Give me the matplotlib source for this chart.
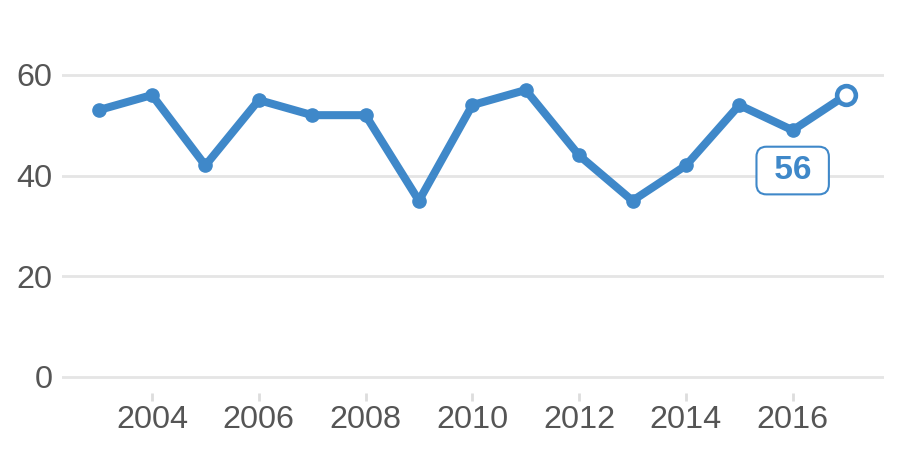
import matplotlib.pyplot as plt

plt.rcParams['font.family'] = ['Liberation Sans', 'DejaVu Sans']

anos = [2003, 2004, 2005, 2006, 2007, 2008, 2009, 2010,
        2011, 2012, 2013, 2014, 2015, 2016, 2017]
valores = [53, 56, 42, 55, 52, 52, 35, 54, 57, 44, 35, 42, 54, 49, 56]
ticks_x = [2004, 2006, 2008, 2010, 2012, 2014, 2016]
ticks_y = [0, 20, 40, 60]

azul = '#3f88c9'
cinza_texto = '#555555'

fig = plt.figure(figsize=(9, 4.5), dpi=100)
ax = fig.add_axes([0.0689, 0.1267, 0.9133, 0.8187])

# linhas de grade horizontais
for y in ticks_y:
    ax.axhline(y, color='#e5e5e5', lw=2, zorder=1)

ax.plot(anos, valores, color=azul, lw=5.8, solid_joinstyle='round',
        solid_capstyle='round', zorder=3)
ax.plot(anos[:-1], valores[:-1], 'o', color=azul, ms=9.5, zorder=4)
ax.plot(anos[-1], valores[-1], 'o', mfc='white', mec=azul, ms=13.5, mew=3.3, zorder=5)

# rótulo do último valor
ax.annotate(' %d ' % valores[-1], xy=(anos[-2], valores[-2]), xytext=(0, -29),
            textcoords='offset points', ha='center', va='center',
            fontsize=24, fontweight='bold', color=azul, zorder=6,
            bbox=dict(boxstyle='round,pad=0.25,rounding_size=0.3', fc='white',
                      ec=azul, lw=1.5))

ax.set_xlim(2002.315, 2017.71)
ax.set_ylim(-3.2, 70)
ax.set_xticks(ticks_x)
ax.set_yticks(ticks_y)
ax.tick_params(axis='x', length=6, width=2, color='#dddddd', pad=3,
               labelsize=23.3, labelcolor=cinza_texto)
ax.tick_params(axis='y', length=0, pad=7, labelsize=23.3, labelcolor=cinza_texto)
for s in ax.spines.values():
    s.set_visible(False)

fig.savefig('out.png', dpi=100)
